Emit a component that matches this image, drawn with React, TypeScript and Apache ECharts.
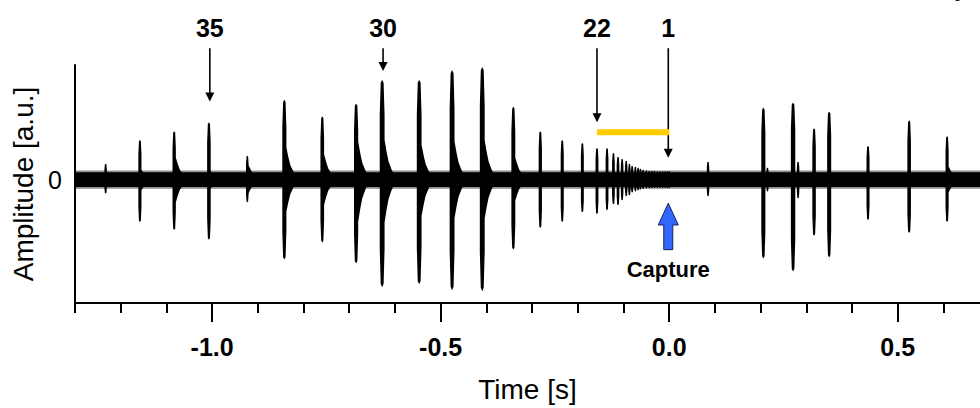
import React, { useEffect, useRef } from "react";
import * as echarts from "echarts";

// ---- data ----
const X_MIN = -1.3;
const X_MAX = 0.68;
const Y_MIN = -1.25;
const Y_MAX = 1.16;
const NOISE_LEVEL = 0.075;
const NOISE_FUZZ = 0.092;

const minorTickValues = [-1.3, -1.2, -1.1, -1.0, -0.9, -0.8, -0.7, -0.6, -0.5, -0.4, -0.3, -0.2, -0.1, 0.0, 0.1, 0.2, 0.3, 0.4, 0.5, 0.6];
const majorTickValues = [-1.0, -0.5, 0.0, 0.5];
const yLabelValues = [0];

// pulse onset times [s]
const pulseTimes = [
  -1.233, -1.158, -1.083, -1.007, -0.923, -0.842, -0.759, -0.685, -0.628, -0.547,
  -0.475, -0.409, -0.341, -0.282, -0.234, -0.19, -0.158, -0.136, -0.122, -0.112,
  -0.103, -0.094, -0.087, -0.081, -0.074, -0.068, -0.063, -0.057, -0.05, -0.044,
  -0.038, -0.032, -0.026, -0.02, -0.014, -0.009, -0.004, 0.0,
  0.085, 0.206, 0.215, 0.271, 0.282, 0.317, 0.35, 0.435, 0.525, 0.608,
];
// positive peak amplitude [a.u.]
const pulseUp = [
  0.16, 0.4, 0.49, 0.58, 0.24, 0.81, 0.64, 0.77, 1.01, 1.01,
  1.11, 1.14, 0.74, 0.49, 0.4, 0.37, 0.32, 0.32, 0.27, 0.23,
  0.21, 0.19, 0.16, 0.14, 0.13, 0.12, 0.11, 0.1, 0.095, 0.09,
  0.09, 0.088, 0.085, 0.085, 0.085, 0.085, 0.085, 0.085,
  0.18, 0.73, 0.12, 0.78, 0.18, 0.52, 0.69, 0.34, 0.6, 0.44,
];
// negative peak amplitude [a.u.]
const pulseDown = [
  -0.14, -0.43, -0.51, -0.61, -0.23, -0.81, -0.64, -0.85, -1.09, -1.06,
  -1.12, -1.13, -0.71, -0.49, -0.43, -0.33, -0.35, -0.31, -0.25, -0.26,
  -0.21, -0.17, -0.16, -0.13, -0.12, -0.11, -0.1, -0.095, -0.09, -0.088,
  -0.088, -0.085, -0.085, -0.085, -0.085, -0.085, -0.085, -0.085,
  -0.17, -0.8, -0.12, -0.93, -0.19, -0.57, -0.79, -0.41, -0.54, -0.43,
];
// echo tail level (fraction of peak)
const pulseTail = [
  0.3, 0.25, 0.45, 0.15, 0.6, 0.4, 0.4, 0.5, 0.4, 0.35,
  0.35, 0.35, 0.3, 0.15, 0.1, 0.1, 0, 0, 0, 0,
  0, 0, 0, 0, 0, 0, 0, 0, 0, 0,
  0, 0, 0, 0, 0, 0, 0, 0,
  0.2, 0, 0, 0, 0, 0, 0.1, 0.15, 0, 0.3,
];

// call-number annotations
const annotationLabels = ["35", "30", "22", "1"];
const annotationTimes = [-1.005, -0.626, -0.158, -0.002];
const annotationTips = [0.79, 1.1, 0.58, 0.22];
const ANNOT_ARROW_TOP = 1.33;
const ANNOT_LABEL_Y = 1.53;

// buzz bar (call 22 .. call 1)
const buzzStart = -0.158;
const buzzEnd = 0.0;
const BUZZ_Y = 0.48;

// capture arrow
const captureTime = -0.002;
const captureTip = -0.24;
const captureHeadBase = -0.46;
const captureTail = -0.71;
const captureLabelY = -0.91;

const FONT = "'Liberation Sans', Arial, Helvetica, sans-serif";

export default function App() {
  const ref = useRef<HTMLDivElement>(null);

  useEffect(() => {
    document.body.style.margin = "0";
    if (!ref.current) return;
    const chart = echarts.init(ref.current, null, { renderer: "svg" });

    const pulseData = pulseTimes.map((t, i) => [t, pulseUp[i], pulseDown[i], pulseTail[i]]);
    const annotData = annotationTimes.map((t, i) => [t, annotationTips[i], i]);

    const option: any = {
      animation: false,
      backgroundColor: "#ffffff",
      grid: { left: 75, right: 0, top: 65, bottom: 102, containLabel: false },
      xAxis: [
        {
          type: "value",
          min: X_MIN,
          max: X_MAX,
          position: "bottom",
          axisLine: { show: true, onZero: false, lineStyle: { color: "#000", width: 2 } },
          axisTick: { show: true, length: 10, customValues: minorTickValues, lineStyle: { color: "#000", width: 2 } },
          axisLabel: { show: false },
          splitLine: { show: false },
        },
        {
          type: "value",
          min: X_MIN,
          max: X_MAX,
          position: "bottom",
          axisLine: { show: false, onZero: false },
          axisTick: { show: true, length: 19, customValues: majorTickValues, lineStyle: { color: "#000", width: 2 } },
          axisLabel: {
            show: true,
            customValues: majorTickValues,
            formatter: (v: number) => v.toFixed(1),
            color: "#000",
            fontFamily: FONT,
            fontWeight: "bold",
            fontSize: 25,
            margin: 31,
          },
          splitLine: { show: false },
          name: "Time [s]",
          nameLocation: "middle",
          nameGap: 72,
          nameTextStyle: { color: "#000", fontFamily: FONT, fontSize: 28 },
        },
      ],
      yAxis: {
        type: "value",
        min: Y_MIN,
        max: Y_MAX,
        axisLine: { show: true, onZero: false, lineStyle: { color: "#000", width: 2 } },
        axisTick: { show: false },
        axisLabel: {
          show: true,
          customValues: yLabelValues,
          color: "#000",
          fontFamily: FONT,
          fontSize: 25,
          margin: 13,
        },
        splitLine: { show: false },
        name: "Amplitude [a.u.]",
        nameLocation: "middle",
        nameGap: 37,
        nameTextStyle: { color: "#000", fontFamily: FONT, fontSize: 28 },
      },
      series: [
        {
          type: "custom",
          name: "noise",
          clip: true,
          silent: true,
          data: [[X_MIN, 0]],
          encode: { x: 0, y: 1 },
          renderItem: (_p: any, api: any) => {
            const a = api.coord([X_MIN, NOISE_LEVEL]);
            const b = api.coord([X_MAX, -NOISE_LEVEL]);
            const c = api.coord([X_MIN, NOISE_FUZZ]);
            const d = api.coord([X_MAX, -NOISE_FUZZ]);
            return {
              type: "group",
              children: [
                { type: "rect", shape: { x: c[0], y: c[1], width: d[0] - c[0], height: d[1] - c[1] }, style: { fill: "rgba(0,0,0,0.45)" } },
                { type: "rect", shape: { x: a[0], y: a[1], width: b[0] - a[0], height: b[1] - a[1] }, style: { fill: "#000" } },
              ],
            };
          },
        },
        {
          type: "custom",
          name: "pulses",
          clip: true,
          silent: true,
          data: pulseData,
          encode: { x: 0, y: 1 },
          renderItem: (_p: any, api: any) => {
            const t = api.value(0);
            const up = api.value(1);
            const dn = api.value(2);
            const tail = api.value(3);
            const c = api.coord([t, 0]);
            const x = c[0];
            const base = c[1];
            const hU = base - api.coord([t, up])[1];
            const hD = api.coord([t, dn])[1] - base;
            const amp = Math.max(up, -dn);
            const hw = 1.0 + 1.3 * Math.min(1.1, amp);
            const tu = tail * hU;
            const td = tail * hD;
            const pts: number[][] = [
              [x - hw, base],
              [x - hw, base - 0.65 * hU],
              [x - hw * 0.6, base - 0.97 * hU],
              [x, base - hU],
              [x + hw * 0.6, base - 0.97 * hU],
              [x + hw, base - 0.65 * hU],
              [x + hw, base - Math.max(tu, 0)],
              [x + hw + 2, base - 0.7 * tu],
              [x + hw + 4, base - 0.45 * tu],
              [x + hw + 7, base - 0.25 * tu],
              [x + hw + 10, base - 0.1 * tu],
              [x + hw + 13, base],
              [x + hw + 10, base + 0.1 * td],
              [x + hw + 7, base + 0.25 * td],
              [x + hw + 4, base + 0.45 * td],
              [x + hw + 2, base + 0.7 * td],
              [x + hw, base + Math.max(td, 0)],
              [x + hw, base + 0.65 * hD],
              [x + hw * 0.6, base + 0.97 * hD],
              [x, base + hD],
              [x - hw * 0.6, base + 0.97 * hD],
              [x - hw, base + 0.65 * hD],
            ];
            return { type: "polygon", shape: { points: pts }, style: { fill: "#000" } };
          },
        },
        {
          type: "custom",
          name: "annotations",
          clip: false,
          silent: true,
          data: annotData,
          encode: { x: 0, y: 1 },
          renderItem: (params: any, api: any) => {
            const t = api.value(0);
            const tip = api.value(1);
            const idx = params.dataIndex;
            const pTip = api.coord([t, tip]);
            const pTop = api.coord([t, ANNOT_ARROW_TOP]);
            const pLab = api.coord([t, ANNOT_LABEL_Y]);
            const headH = 9;
            const headW = 4.5;
            return {
              type: "group",
              children: [
                { type: "line", shape: { x1: pTop[0], y1: pTop[1], x2: pTip[0], y2: pTip[1] - headH + 1 }, style: { stroke: "#000", lineWidth: 1.6 } },
                {
                  type: "polygon",
                  shape: { points: [[pTip[0], pTip[1]], [pTip[0] - headW, pTip[1] - headH], [pTip[0] + headW, pTip[1] - headH]] },
                  style: { fill: "#000" },
                },
                {
                  type: "text",
                  x: pLab[0],
                  y: pLab[1],
                  style: { text: annotationLabels[idx], fill: "#000", font: `bold 25px ${FONT}`, align: "center", verticalAlign: "middle" },
                },
              ],
            };
          },
        },
        {
          type: "custom",
          name: "buzz",
          clip: false,
          silent: true,
          data: [[buzzStart, BUZZ_Y, buzzEnd]],
          encode: { x: 0, y: 1 },
          renderItem: (_p: any, api: any) => {
            const a = api.coord([api.value(0), api.value(1)]);
            const b = api.coord([api.value(2), api.value(1)]);
            return { type: "rect", shape: { x: a[0], y: a[1] - 3, width: b[0] - a[0], height: 6 }, style: { fill: "#FFCC00" } };
          },
        },
        {
          type: "custom",
          name: "capture",
          clip: false,
          silent: true,
          data: [[captureTime, captureTip]],
          encode: { x: 0, y: 1 },
          renderItem: (_p: any, api: any) => {
            const t = api.value(0);
            const tipP = api.coord([t, captureTip]);
            const headP = api.coord([t, captureHeadBase]);
            const tailP = api.coord([t, captureTail]);
            const labP = api.coord([t, captureLabelY]);
            const x = tipP[0];
            const hw = 10;
            const sw = 4.5;
            return {
              type: "group",
              children: [
                {
                  type: "polygon",
                  shape: {
                    points: [
                      [x, tipP[1]],
                      [x + hw, headP[1]],
                      [x + sw, headP[1]],
                      [x + sw, tailP[1]],
                      [x - sw, tailP[1]],
                      [x - sw, headP[1]],
                      [x - hw, headP[1]],
                    ],
                  },
                  style: { fill: "#3366FF", stroke: "#14205a", lineWidth: 1 },
                },
                {
                  type: "text",
                  x: labP[0],
                  y: labP[1],
                  style: { text: "Capture", fill: "#000", font: `bold 22px ${FONT}`, align: "center", verticalAlign: "middle" },
                },
              ],
            };
          },
        },
      ],
      graphic: [
        {
          type: "text",
          left: 955,
          top: -21,
          silent: true,
          style: { text: "p", fill: "#000", font: "20px 'Liberation Serif', 'Times New Roman', serif" },
        },
      ],
    };

    chart.setOption(option);
    return () => {
      chart.dispose();
    };
  }, []);

  return <div ref={ref} style={{ width: 980, height: 408 }} />;
}
